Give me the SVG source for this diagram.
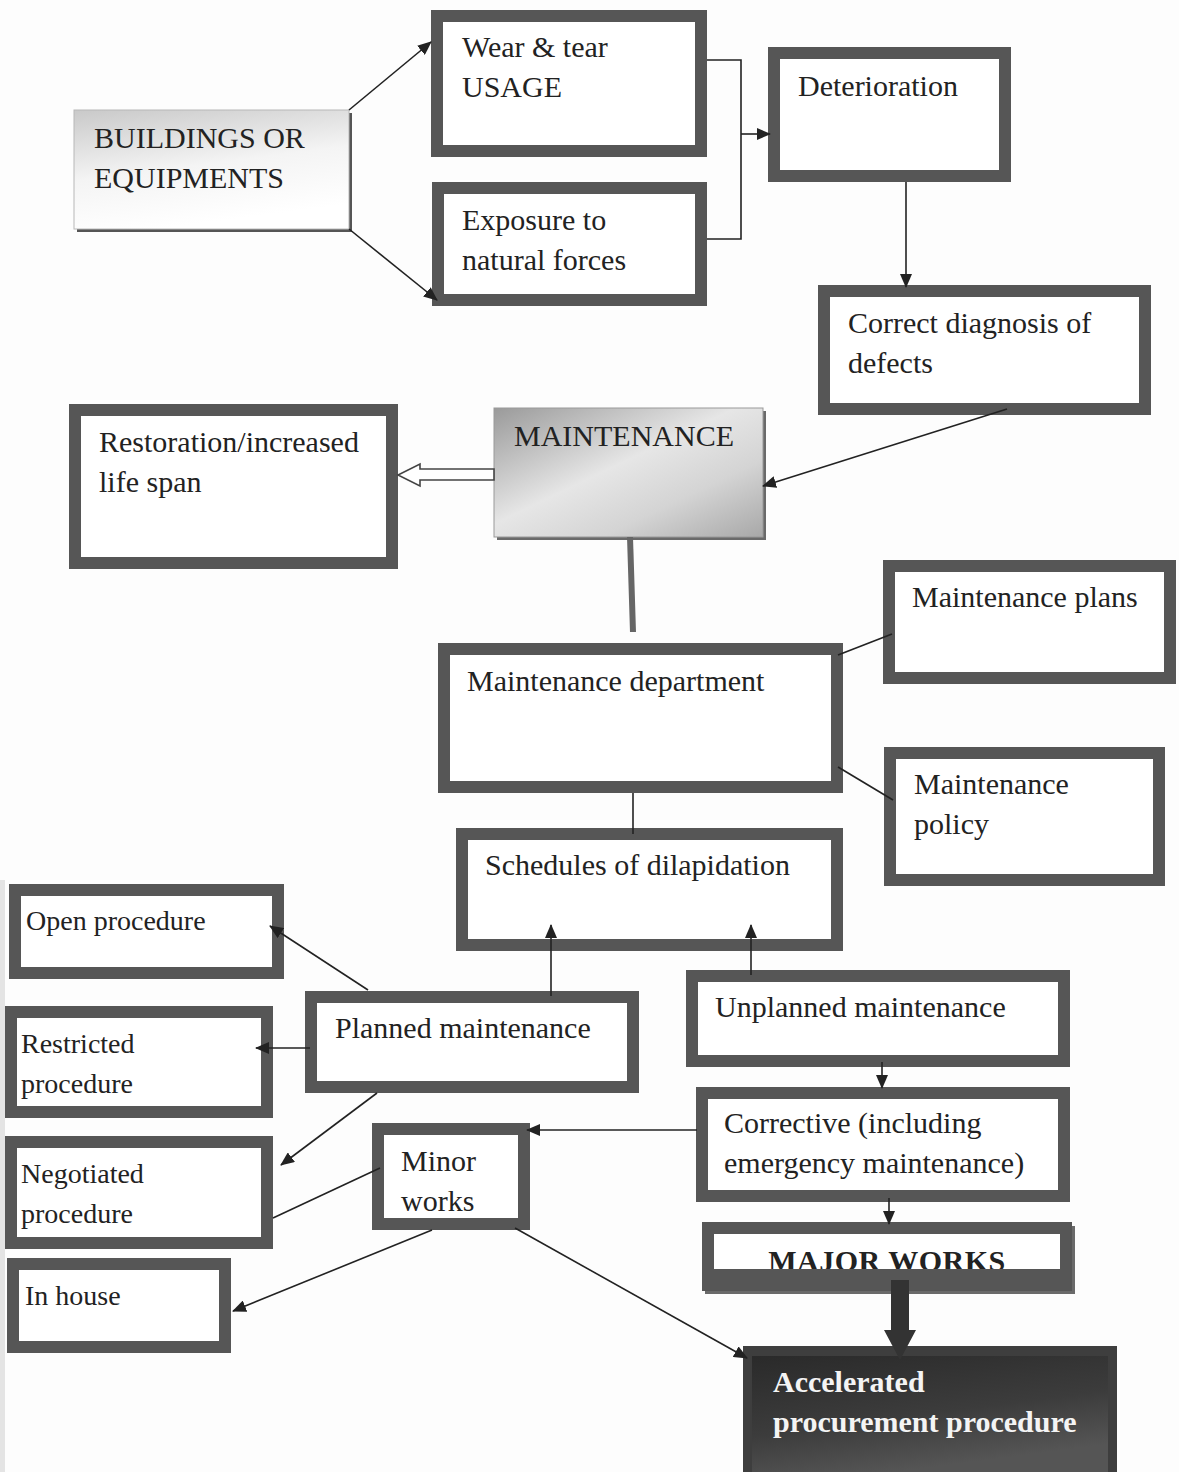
<svg xmlns="http://www.w3.org/2000/svg" width="1179" height="1472" viewBox="0 0 1179 1472">
<style>
.box{fill:#ffffff;stroke:#565656;stroke-width:12}
.t{font-family:"Liberation Serif","Times New Roman",serif;font-size:30px;fill:#222}
.ts{font-family:"Liberation Serif","Times New Roman",serif;font-size:28px;fill:#222}
.tb{font-family:"Liberation Serif","Times New Roman",serif;font-size:30px;font-weight:bold;fill:#222}
.tw{font-family:"Liberation Serif","Times New Roman",serif;font-size:30px;font-weight:bold;fill:#f4f4f4}
.ln{fill:none;stroke:#222;stroke-width:1.6}
.ar{fill:none;stroke:#222;stroke-width:1.6;marker-end:url(#ah)}
</style>
<defs>
<marker id="ah" viewBox="0 0 14 12" refX="13" refY="6" markerWidth="14" markerHeight="12" markerUnits="userSpaceOnUse" orient="auto">
<path d="M0,0 L14,6 L0,12 z" fill="#222"/>
</marker>
<linearGradient id="gBld" x1="0" y1="0" x2="0.3" y2="1">
<stop offset="0" stop-color="#c9c9c9"/>
<stop offset="0.55" stop-color="#f4f4f4"/>
<stop offset="1" stop-color="#ffffff"/>
</linearGradient>
<linearGradient id="gMnt" x1="0" y1="0" x2="1" y2="1">
<stop offset="0" stop-color="#9a9a9a"/>
<stop offset="0.45" stop-color="#e6e6e6"/>
<stop offset="0.7" stop-color="#d4d4d4"/>
<stop offset="1" stop-color="#a8a8a8"/>
</linearGradient>
<linearGradient id="gAcc" x1="0" y1="0" x2="0.4" y2="1">
<stop offset="0" stop-color="#2a2a2a"/>
<stop offset="0.6" stop-color="#3c3c3c"/>
<stop offset="1" stop-color="#555555"/>
</linearGradient>
<clipPath id="cMaj"><rect x="714" y="1234" width="348" height="35"/></clipPath>
</defs>
<rect x="0" y="0" width="1179" height="1472" fill="#fdfdfd"/>
<rect x="0" y="880" width="5" height="592" fill="#e4e4e4"/>

<g id="buildings">
<rect x="77" y="113" width="275" height="119" fill="#555"/>
<rect x="74" y="110" width="275" height="119" fill="url(#gBld)" stroke="#b8b8b8" stroke-width="1"/>
<text class="t" x="94" y="148">BUILDINGS OR</text>
<text class="t" x="94" y="188">EQUIPMENTS</text>
</g>
<g id="wear">
<rect class="box" x="437" y="16" width="264" height="135"/>
<text class="t" x="462" y="57">Wear &amp; tear</text>
<text class="t" x="462" y="97">USAGE</text>
</g>
<g id="exposure">
<rect class="box" x="438" y="188" width="263" height="112"/>
<text class="t" x="462" y="230">Exposure to</text>
<text class="t" x="462" y="270">natural forces</text>
</g>
<g id="deterioration">
<rect class="box" x="774" y="53" width="231" height="123"/>
<text class="t" x="798" y="96">Deterioration</text>
</g>
<g id="diagnosis">
<rect class="box" x="824" y="291" width="321" height="118"/>
<text class="t" x="848" y="333">Correct diagnosis of</text>
<text class="t" x="848" y="373">defects</text>
</g>
<g id="restoration">
<rect class="box" x="75" y="410" width="317" height="153"/>
<text class="t" x="99" y="452">Restoration/increased</text>
<text class="t" x="99" y="492">life span</text>
</g>
<g id="maintenance">
<rect x="497" y="411" width="269" height="129" fill="#6a6a6a"/>
<rect x="494" y="408" width="269" height="129" fill="url(#gMnt)" stroke="#999" stroke-width="1"/>
<text class="t" x="514" y="446">MAINTENANCE</text>
</g>
<g id="plans">
<rect class="box" x="889" y="566" width="281" height="112"/>
<text class="t" x="912" y="607">Maintenance plans</text>
</g>
<g id="department">
<rect class="box" x="444" y="649" width="393" height="138"/>
<text class="t" x="467" y="691">Maintenance department</text>
</g>
<g id="policy">
<rect class="box" x="890" y="753" width="269" height="127"/>
<text class="t" x="914" y="794">Maintenance</text>
<text class="t" x="914" y="834">policy</text>
</g>
<g id="schedules">
<rect class="box" x="462" y="834" width="375" height="111"/>
<text class="t" x="485" y="875">Schedules of dilapidation</text>
</g>
<g id="open">
<rect class="box" x="15" y="890" width="263" height="83"/>
<text class="ts" x="26" y="930">Open procedure</text>
</g>
<g id="restricted">
<rect class="box" x="11" y="1012" width="256" height="100"/>
<text class="ts" x="21" y="1053">Restricted</text>
<text class="ts" x="21" y="1093">procedure</text>
</g>
<g id="planned">
<rect class="box" x="311" y="997" width="322" height="90"/>
<text class="t" x="335" y="1038">Planned maintenance</text>
</g>
<g id="unplanned">
<rect class="box" x="692" y="976" width="372" height="85"/>
<text class="t" x="715" y="1017">Unplanned maintenance</text>
</g>
<g id="negotiated">
<rect class="box" x="11" y="1142" width="256" height="101"/>
<text class="ts" x="21" y="1183">Negotiated</text>
<text class="ts" x="21" y="1223">procedure</text>
</g>
<g id="minor">
<rect class="box" x="378" y="1129" width="146" height="95"/>
<text class="t" x="401" y="1171">Minor</text>
<text class="t" x="401" y="1211">works</text>
</g>
<g id="corrective">
<rect class="box" x="702" y="1093" width="362" height="103"/>
<text class="t" x="724" y="1133">Corrective (including</text>
<text class="t" x="724" y="1173">emergency maintenance)</text>
</g>
<g id="major">
<rect x="705" y="1226" width="370" height="68" fill="#6a6a6a"/>
<rect x="702" y="1222" width="370" height="69" fill="#565656"/>
<rect x="714" y="1234" width="346" height="35" fill="#ffffff"/>
<text class="tb" x="887" y="1271" text-anchor="middle" clip-path="url(#cMaj)" letter-spacing="0.5">MAJOR WORKS</text>
</g>
<g id="inhouse">
<rect class="box" x="13" y="1264" width="212" height="83"/>
<text class="ts" x="25" y="1305">In house</text>
</g>
<g id="accelerated">
<rect x="743" y="1346" width="374" height="126" fill="#3e3e3e"/>
<rect x="752" y="1356" width="356" height="116" fill="url(#gAcc)"/>
<text class="tw" x="773" y="1392">Accelerated</text>
<text class="tw" x="773" y="1432">procurement procedure</text>
</g>

<g id="connectors">
<line class="ar" x1="349" y1="110" x2="431" y2="42"/>
<line class="ar" x1="349" y1="229" x2="437" y2="300"/>
<polyline class="ln" points="707,60 741,60 741,239 707,239"/>
<line class="ar" x1="741" y1="134" x2="770" y2="134"/>
<line class="ar" x1="906" y1="182" x2="906" y2="287"/>
<line class="ar" x1="1007" y1="409" x2="763" y2="486"/>
<polygon points="494,469 420,469 420,464 398,475 420,486 420,480 494,480" fill="#ffffff" stroke="#444" stroke-width="1.6"/>
<line x1="630" y1="537" x2="633" y2="632" stroke="#666" stroke-width="6"/>
<line class="ln" x1="838" y1="655" x2="892" y2="634"/>
<line class="ln" x1="838" y1="767" x2="893" y2="800"/>
<line class="ln" x1="633" y1="793" x2="633" y2="834"/>
<line class="ar" x1="551" y1="996" x2="551" y2="925"/>
<line class="ar" x1="751" y1="975" x2="751" y2="925"/>
<line class="ar" x1="368" y1="990" x2="270" y2="926"/>
<line class="ar" x1="310" y1="1048" x2="256" y2="1048"/>
<line class="ar" x1="377" y1="1093" x2="281" y2="1165"/>
<line class="ar" x1="882" y1="1062" x2="882" y2="1088"/>
<line class="ar" x1="697" y1="1130" x2="527" y2="1130"/>
<line class="ar" x1="889" y1="1198" x2="889" y2="1224"/>
<line class="ln" x1="380" y1="1168" x2="273" y2="1218"/>
<line class="ar" x1="432" y1="1230" x2="233" y2="1311"/>
<line class="ar" x1="515" y1="1228" x2="747" y2="1358"/>
<polygon points="891,1280 909,1280 909,1330 916,1330 900,1360 884,1330 891,1330" fill="#333"/>
</g>
</svg>
